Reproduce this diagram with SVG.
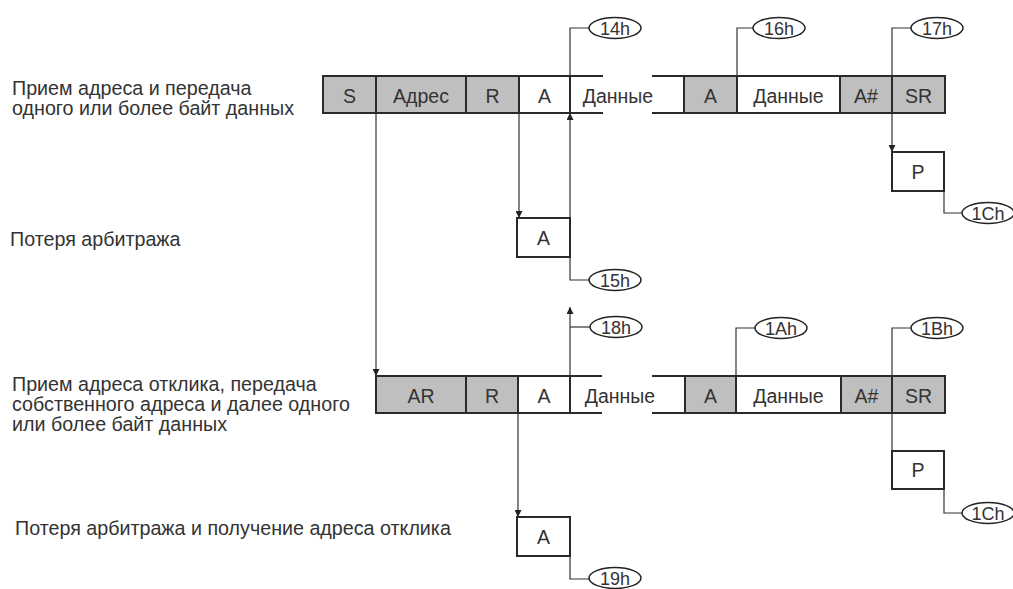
<svg xmlns="http://www.w3.org/2000/svg" width="1013" height="589" viewBox="0 0 1013 589">
<defs>
<style>
.lbl{font-family:"Liberation Sans",Arial,sans-serif;font-size:19.7px;fill:#333}
.bt{font-family:"Liberation Sans",Arial,sans-serif;font-size:19.5px;fill:#333;text-anchor:middle}
.et{font-family:"Liberation Sans",Arial,sans-serif;font-size:18px;fill:#333;text-anchor:middle}
.g{fill:#bfbfbf;stroke:#2a2a2a;stroke-width:2}
.w{fill:#fff;stroke:#2a2a2a;stroke-width:2}
.edge{fill:none;stroke:#2a2a2a;stroke-width:2}
.c{fill:none;stroke:#333;stroke-width:1.2}
.el{fill:#fff;stroke:#222;stroke-width:1.5}
</style>
<marker id="ah" viewBox="0 0 10 10" refX="10" refY="5" markerWidth="7" markerHeight="7" markerUnits="userSpaceOnUse" orient="auto"><path d="M0,0 L10,5 L0,10 z" fill="#222"/></marker>
</defs>

<g id="labels">
<text class="lbl" x="12" y="95">Прием адреса и передача</text>
<text class="lbl" x="12" y="115">одного или более байт данных</text>
<text class="lbl" x="10" y="246">Потеря арбитража</text>
<text class="lbl" x="12" y="391">Прием адреса отклика, передача</text>
<text class="lbl" x="12" y="411">собственного адреса и далее одного</text>
<text class="lbl" x="12" y="431">или более байт данных</text>
<text class="lbl" x="15" y="535">Потеря арбитража и получение адреса отклика</text>
</g>

<g id="connectors">
<path class="c" d="M376,113 V376" marker-end="url(#ah)"/>
<path class="c" d="M519,113 V218" marker-end="url(#ah)"/>
<path class="c" d="M570,218 V113" marker-end="url(#ah)"/>
<path class="c" d="M570,76 V28 H589"/>
<path class="c" d="M737,76 V28 H753"/>
<path class="c" d="M892,76 V28 H911"/>
<path class="c" d="M892,113 V152" marker-end="url(#ah)"/>
<path class="c" d="M570,257 V280 H589"/>
<path class="c" d="M944,191 V213 H962"/>
<path class="c" d="M570,376 V307" marker-end="url(#ah)"/>
<path class="c" d="M570,327 H590"/>
<path class="c" d="M736,376 V328 H755"/>
<path class="c" d="M892,376 V328 H911"/>
<path class="c" d="M892,413 V451"/>
<path class="c" d="M518,413 V517" marker-end="url(#ah)"/>
<path class="c" d="M570,556 V579 H589"/>
<path class="c" d="M944,489 V513 H962"/>
</g>

<g id="row1">
<rect class="g" x="323" y="76" width="53" height="37"/><text class="bt" x="349.5" y="103">S</text>
<rect class="g" x="376" y="76" width="90" height="37"/><text class="bt" x="421" y="103">Адрес</text>
<rect class="g" x="466" y="76" width="53" height="37"/><text class="bt" x="492.5" y="103">R</text>
<rect class="w" x="519" y="76" width="51" height="37"/><text class="bt" x="544.5" y="103">A</text>
<path class="edge" d="M570,76 H603 M652,76 H684 M570,113 H603 M652,113 H684"/>
<text class="bt" x="618" y="103">Данные</text>
<rect class="g" x="684" y="76" width="53" height="37"/><text class="bt" x="710.5" y="103">A</text>
<rect class="w" x="737" y="76" width="103" height="37"/><text class="bt" x="788.5" y="103">Данные</text>
<rect class="g" x="840" y="76" width="52" height="37"/><text class="bt" x="866" y="103">A#</text>
<rect class="g" x="892" y="76" width="53" height="37"/><text class="bt" x="918.5" y="103">SR</text>
</g>

<g id="row2">
<rect class="g" x="376" y="376" width="90" height="37"/><text class="bt" x="421" y="403">AR</text>
<rect class="g" x="466" y="376" width="52" height="37"/><text class="bt" x="492" y="403">R</text>
<rect class="w" x="518" y="376" width="52" height="37"/><text class="bt" x="544" y="403">A</text>
<path class="edge" d="M570,376 H602 M652,376 H685 M570,413 H602 M652,413 H685"/>
<text class="bt" x="620" y="403">Данные</text>
<rect class="g" x="685" y="376" width="51" height="37"/><text class="bt" x="710.5" y="403">A</text>
<rect class="w" x="736" y="376" width="105" height="37"/><text class="bt" x="788.5" y="403">Данные</text>
<rect class="g" x="841" y="376" width="51" height="37"/><text class="bt" x="866.5" y="403">A#</text>
<rect class="g" x="892" y="376" width="53" height="37"/><text class="bt" x="918.5" y="403">SR</text>
</g>

<g id="box-a1"><rect class="w" x="517" y="218" width="53" height="39"/><text class="bt" x="543.5" y="245">A</text></g>
<g id="box-p1"><rect class="w" x="892" y="152" width="52" height="39"/><text class="bt" x="918" y="179">P</text></g>
<g id="box-a2"><rect class="w" x="517" y="517" width="53" height="39"/><text class="bt" x="543.5" y="544">A</text></g>
<g id="box-p2"><rect class="w" x="892" y="451" width="52" height="38"/><text class="bt" x="918" y="477">P</text></g>

<g id="e14h"><ellipse class="el" cx="615" cy="28" rx="26" ry="10.5"/><text class="et" x="615" y="34.5">14h</text></g>
<g id="e16h"><ellipse class="el" cx="779" cy="28" rx="26" ry="10.5"/><text class="et" x="779" y="34.5">16h</text></g>
<g id="e17h"><ellipse class="el" cx="937" cy="28" rx="26" ry="10.5"/><text class="et" x="937" y="34.5">17h</text></g>
<g id="e15h"><ellipse class="el" cx="615" cy="280" rx="26" ry="10.5"/><text class="et" x="615" y="286.5">15h</text></g>
<g id="e1Ch-1"><ellipse class="el" cx="988" cy="213" rx="26" ry="10.5"/><text class="et" x="988" y="219.5">1Ch</text></g>
<g id="e18h"><ellipse class="el" cx="616" cy="327" rx="26" ry="10.5"/><text class="et" x="616" y="333.5">18h</text></g>
<g id="e1Ah"><ellipse class="el" cx="781" cy="328" rx="26" ry="10.5"/><text class="et" x="781" y="334.5">1Ah</text></g>
<g id="e1Bh"><ellipse class="el" cx="937" cy="328" rx="26" ry="10.5"/><text class="et" x="937" y="334.5">1Bh</text></g>
<g id="e19h"><ellipse class="el" cx="615" cy="578" rx="26" ry="10.5"/><text class="et" x="615" y="584.5">19h</text></g>
<g id="e1Ch-2"><ellipse class="el" cx="988" cy="513" rx="26" ry="10.5"/><text class="et" x="988" y="519.5">1Ch</text></g>
</svg>
